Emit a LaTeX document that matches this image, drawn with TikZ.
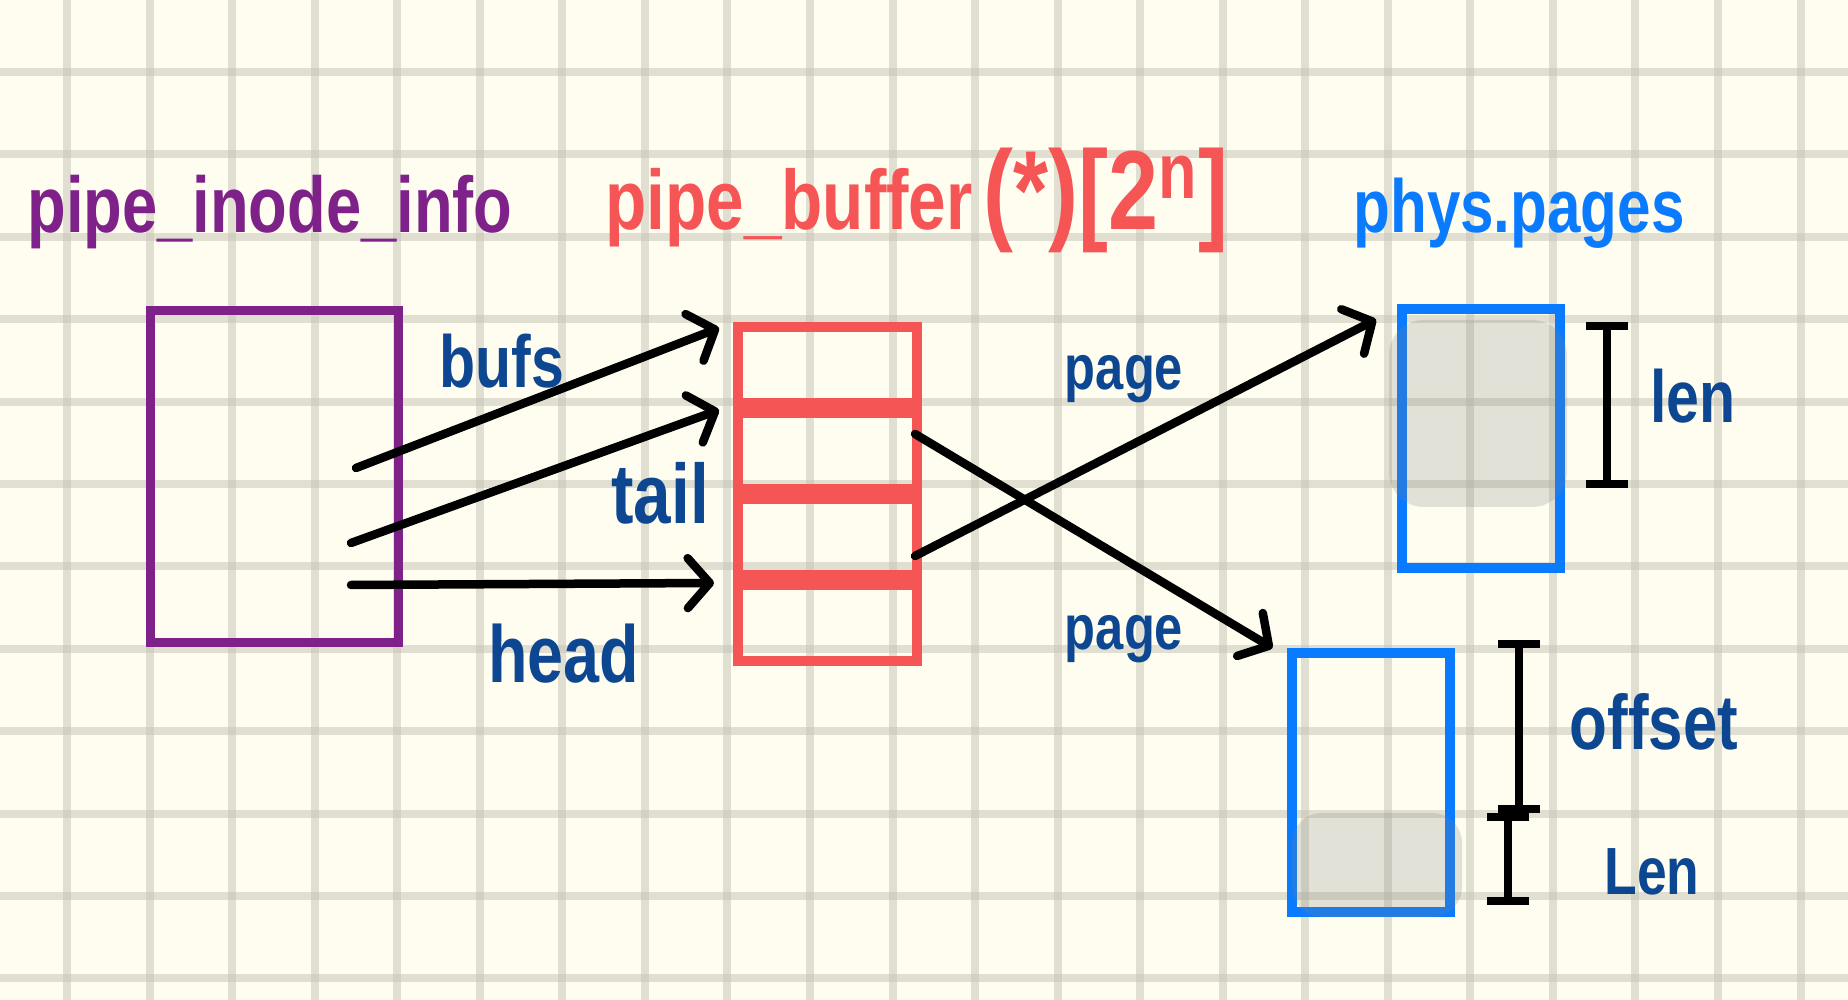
\documentclass[tikz,border=0pt]{standalone}
\usepackage{fontspec}
\setmainfont{Liberation Sans}
\usetikzlibrary{arrows.meta,positioning}
\definecolor{pipepaper}{RGB}{254,253,240}
\definecolor{pipegrid}{RGB}{196,194,180}
\definecolor{pipepurple}{RGB}{126,33,137}
\definecolor{pipered}{RGB}{245,85,85}
\definecolor{pipeblue}{RGB}{10,123,255}
\definecolor{pipenavy}{RGB}{13,71,145}

\begin{document}
\begin{tikzpicture}[>={Straight Barb[length=0.22cm,width=0.5cm,round]},
  every node/.style={inner sep=0pt},
  gridline/.style={draw=pipegrid,draw opacity=0.5,line width=0.08cm},
  inodebox/.style={draw=pipepurple,line width=0.09cm,minimum width=2.48cm,minimum height=3.32cm},
  bufbox/.style={draw=pipered,line width=0.1cm,minimum width=1.79cm,minimum height=0.76cm},
  pagebox/.style={draw=pipeblue,line width=0.1cm,minimum width=1.58cm,minimum height=2.59cm},
  blob/.style={fill=gray,fill opacity=0.22,rounded corners=0.35cm},
  ptr/.style={->,line width=0.085cm,line cap=round},
  dimline/.style={{Bar[width=0.42cm]}-{Bar[width=0.42cm]},line width=0.08cm,line cap=round},
  titletext/.style={anchor=base,xscale=0.8,font=\bfseries\fontsize{22.5}{24}\selectfont},
  lbl/.style={anchor=base,xscale=0.8,text=pipenavy,font=\bfseries\fontsize{21}{22}\selectfont}]
  % paper
  \fill[pipepaper] (0,0) rectangle (18.48,10);
  \useasboundingbox (0,0) rectangle (18.48,10);
  \foreach \i in {0,...,21} \draw[gridline] ({0.67+0.8255*\i},0) -- ++(0,10);
  \foreach \j in {0,...,11} \draw[gridline] (0,{9.28-0.824*\j}) -- ++(18.48,0);

  % headings
  \node[titletext,text=pipepurple] (inodet) at (2.70,7.67) {pipe\_inode\_info};
  \node[titletext,text=pipered,font=\bfseries\fontsize{24}{26}\selectfont] (buft) at (9.17,7.70)
    {pipe\_buffer\,{\fontsize{32}{34}\selectfont(*)[2\textsuperscript{n}]}};
  \node[titletext,text=pipeblue,font=\bfseries\fontsize{21.4}{23}\selectfont] (paget) at (15.19,7.67) {phys.pages};

  % boxes
  \node[inodebox] (inode) at (2.74,5.23) {};
  \node[bufbox] (buf1) at (8.275,6.35) {};
  \node[bufbox,below=0pt of buf1] (buf2) {};
  \node[bufbox,below=0pt of buf2] (buf3) {};
  \node[bufbox,below=0pt of buf3] (buf4) {};
  \node[pagebox] (page1) at (14.81,5.61) {};
  \node[pagebox] (page2) at (13.705,2.175) {};
  \node[blob,minimum width=1.78cm,minimum height=1.87cm] (blob1) at (14.78,5.865) {};
  \node[blob,minimum width=1.70cm,minimum height=1.04cm,rounded corners=0.3cm] (blob2) at (13.77,1.35) {};

  % pointers
  \coordinate (bufsp) at (3.56,5.32);
  \coordinate (tailp) at (3.51,4.57);
  \coordinate (headp) at (3.51,4.15);
  \draw[ptr] (bufsp) -- ([shift={(-0.14,-0.06)}]buf1.north west);
  \draw[ptr] (tailp) -- ([shift={(-0.14,-0.02)}]buf2.north west);
  \draw[ptr] (headp) -- ([shift={(-0.19,-0.03)}]buf4.north west);
  \draw[ptr] ([shift={(-0.07,0.17)}]buf2.east) -- ([shift={(-0.14,0)}]page2.north west);
  \draw[ptr] ([shift={(-0.07,-0.19)}]buf3.east) -- ([shift={(-0.21,-0.15)}]page1.north west);

  \node[lbl] (bufsl) at (5.02,6.12) {bufs};
  \node[lbl,font=\bfseries\fontsize{24}{26}\selectfont] (taill) at (6.60,4.76) {tail};
  \node[lbl,font=\bfseries\fontsize{23}{25}\selectfont] (headl) at (5.635,3.17) {head};
  \node[lbl,font=\bfseries\fontsize{18}{20}\selectfont] (pagel1) at (11.24,6.10) {page};
  \node[lbl,font=\bfseries\fontsize{18}{20}\selectfont] (pagel2) at (11.24,3.50) {page};

  % lengths
  \coordinate (len1a) at (16.07,6.78);
  \coordinate (len1b) at (16.07,5.12);
  \coordinate (offa) at (15.19,3.60);
  \coordinate (offb) at (15.19,1.87);
  \coordinate (len2a) at (15.08,1.87);
  \coordinate (len2b) at (15.08,0.95);
  \draw[dimline] (len1a) -- (len1b);
  \draw[dimline] (offa) -- (offb);
  \draw[dimline] (len2a) -- (len2b);
  \node[lbl] (lenl1) at (16.93,5.77) {len};
  \node[lbl,font=\bfseries\fontsize{22}{24}\selectfont] (offl) at (16.54,2.50) {offset};
  \node[lbl,font=\bfseries\fontsize{19}{20}\selectfont] (lenl2) at (16.52,1.05) {Len};
\end{tikzpicture}
\end{document}
